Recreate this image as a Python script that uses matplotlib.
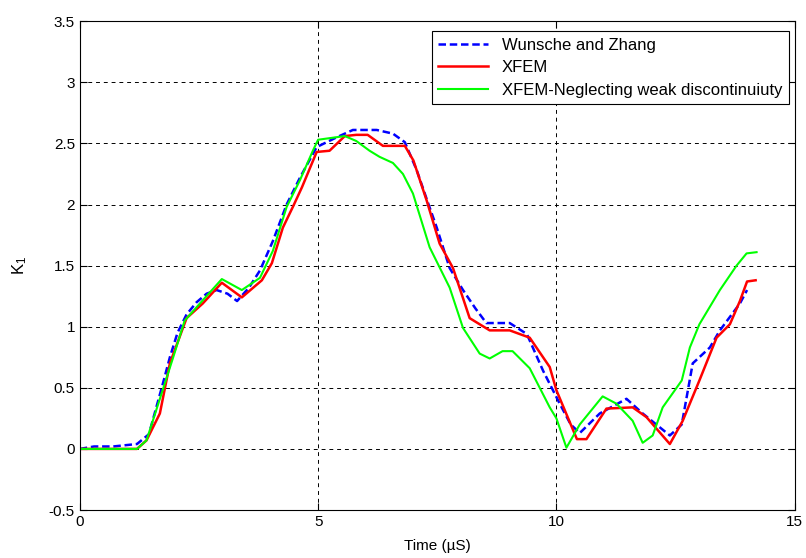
import matplotlib
matplotlib.use("Agg")
from matplotlib import pyplot as plt

plt.rcParams['font.family'] = ['Liberation Sans', 'DejaVu Sans']

# Wunsche and Zhang (reference)
wz_t = [0.0, 0.3, 0.7, 1.2, 1.45, 1.74, 1.89, 2.05, 2.24, 2.45, 2.66, 2.87, 3.1, 3.3, 3.55,
        3.78, 4.05, 4.34, 4.62, 4.97, 5.39, 5.73, 6.23, 6.57, 6.82, 7.07, 7.3, 7.49, 7.76,
        8.04, 8.3, 8.53, 9.02, 9.38, 9.72, 10.07, 10.3, 10.49, 10.91, 11.47, 11.81,
        12.38, 12.63, 12.86, 13.22, 13.43, 13.85, 14.0]
wz_k = [0.0, 0.02, 0.02, 0.04, 0.12, 0.53, 0.75, 0.95, 1.1, 1.2, 1.27, 1.3, 1.27, 1.21, 1.32,
        1.46, 1.7, 2.0, 2.22, 2.47, 2.55, 2.61, 2.61, 2.58, 2.51, 2.28, 2.02, 1.81, 1.48,
        1.3, 1.15, 1.03, 1.03, 0.94, 0.64, 0.37, 0.2, 0.13, 0.29, 0.41, 0.29,
        0.11, 0.2, 0.7, 0.83, 0.97, 1.19, 1.3]

# XFEM
xf_t = [0.0, 1.2, 1.4, 1.68, 1.89, 2.24, 2.58, 2.98, 3.4, 3.82, 4.03, 4.26, 4.47, 4.66, 4.97,
        5.24, 5.56, 5.8, 6.04, 6.36, 6.57, 6.82, 7.0, 7.28, 7.55, 7.83, 8.18, 8.6, 9.02,
        9.44, 9.86, 10.0, 10.43, 10.63, 11.05, 11.6, 11.89, 12.38, 12.65, 13.0, 13.36,
        13.64, 13.85, 14.0, 14.18]
xf_k = [0.0, 0.0, 0.07, 0.29, 0.7, 1.07, 1.19, 1.36, 1.24, 1.38, 1.52, 1.81, 1.98, 2.14, 2.43,
        2.44, 2.56, 2.57, 2.57, 2.48, 2.48, 2.48, 2.36, 2.03, 1.68, 1.48, 1.07, 0.97, 0.97,
        0.91, 0.67, 0.48, 0.08, 0.08, 0.33, 0.34, 0.26, 0.04, 0.23, 0.56, 0.91,
        1.02, 1.21, 1.37, 1.38]

# XFEM - neglecting weak discontinuity
xn_t = [0.0, 1.2, 1.4, 1.96, 2.2, 2.52, 2.98, 3.4, 3.78, 4.05, 4.34, 4.62, 4.89, 5.0, 5.56,
        5.8, 6.08, 6.29, 6.57, 6.78, 6.99, 7.34, 7.76, 8.04, 8.39, 8.6, 8.87, 9.08, 9.44,
        9.86, 10.0, 10.21, 10.49, 10.97, 11.26, 11.6, 11.81, 12.02, 12.23, 12.63, 12.8,
        13.0, 13.43, 13.78, 13.99, 14.2]
xn_k = [0.0, 0.0, 0.07, 0.75, 1.05, 1.19, 1.39, 1.3, 1.4, 1.62, 1.98, 2.2, 2.44, 2.53, 2.56,
        2.52, 2.44, 2.39, 2.34, 2.25, 2.09, 1.65, 1.32, 0.99, 0.78, 0.74, 0.8, 0.8, 0.66,
        0.34, 0.25, 0.01, 0.2, 0.43, 0.37, 0.23, 0.05, 0.11, 0.34, 0.56, 0.83,
        1.02, 1.3, 1.5, 1.6, 1.61]

fig = plt.figure(figsize=(8.06, 5.58), dpi=100)
ax = fig.add_axes([0.099, 0.086, 0.887, 0.876])

ax.plot(wz_t, wz_k, color='#0000ff', linestyle=(0, (3, 1.5)), linewidth=1.8, label='Wunsche and Zhang')
ax.plot(xf_t, xf_k, color='#ff0000', linewidth=1.8, label='XFEM')
ax.plot(xn_t, xn_k, color='#00ff00', linewidth=1.5, label='XFEM-Neglecting weak discontinuiuty')

ax.set_xlim(0, 15)
ax.set_ylim(-0.5, 3.5)
ax.set_xticks([0, 5, 10, 15])
ax.set_yticks([-0.5, 0, 0.5, 1, 1.5, 2, 2.5, 3, 3.5])
ax.set_yticklabels(['-0.5', '0', '0.5', '1', '1.5', '2', '2.5', '3', '3.5'])
ax.grid(True, color='black', linestyle=(0, (4, 4)), linewidth=0.7)
ax.tick_params(direction='in', top=True, right=True, length=5, labelsize=11)
for s in ax.spines.values():
    s.set_linewidth(0.8)

ax.set_xlabel('Time (\u00b5S)', fontsize=11, labelpad=7)
ax.set_ylabel('$\\mathregular{K_1}$', fontsize=12, labelpad=14)

leg = ax.legend(loc='upper right', bbox_to_anchor=(0.992, 0.98), fontsize=12,
                handlelength=3.0, fancybox=False, framealpha=1, edgecolor='black',
                borderaxespad=0, labelspacing=0.45, borderpad=0.4)
leg.get_frame().set_linewidth(0.8)

fig.savefig('out.png', dpi=100)
